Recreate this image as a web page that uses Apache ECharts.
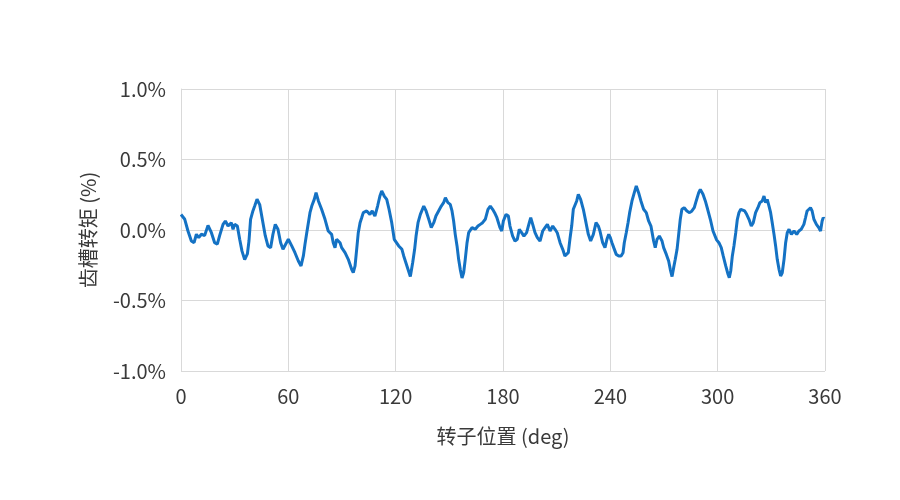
<!DOCTYPE html>
<html>
<head>
<meta charset="utf-8">
<script src="https://cdn.jsdelivr.net/npm/echarts@6/dist/echarts.min.js"></script>
<style>
html,body{margin:0;padding:0;background:#fff;}
#chart{width:900px;height:500px;}
</style>
</head>
<body>
<div id="chart"></div>
<script>
// Rotor position (deg)
var angleDeg = [
0,2.1,3.9,5.8,7.3,8.6,9.9,11.4,13.2,15.1,17.0,18.8,20.3,21.6,23.5,24.8,26.3,28.1,29.1,30.0,31.5,32.8,34.1,35.6,37.1,38.0,38.9,40.2,41.2,42.5,44.0,45.8,47.1,48.6,50.1,51.4,52.7,54.2,55.7,57.0,
58.1,60.0,61.9,63.7,65.6,67.1,68.4,69.3,70.3,71.2,72.1,73.1,74.5,75.5,76.8,78.6,80.5,82.3,84.2,85.1,86.1,87.0,87.9,88.9,89.8,91.7,93.5,95.4,96.3,97.3,98.2,99.1,100.1,101.0,101.9,103.8,105.6,106.9,108.4,109.9,111.2,112.2,113.6,115.0,116.3,117.8,119.2,
121.7,123.5,124.5,126.3,128.2,129.5,130.6,131.4,132.5,133.8,135.7,137.0,138.5,139.9,141.3,142.5,144.0,145.5,146.8,147.8,149.2,150.5,151.5,152.4,153.3,154.3,155.2,156.1,157.1,158.0,158.9,159.9,160.8,162.7,164.5,166.0,167.3,168.6,170.1,171.6,172.9,174.2,175.3,176.6,
178.3,179.3,180.2,181.7,183.0,183.9,185.4,186.7,188.0,189.1,190.4,191.7,193.2,194.7,195.5,196.6,197.9,199.2,200.7,202.2,203.5,204.8,206.3,207.8,209.1,210.3,211.9,213.4,214.6,216.5,217.4,218.4,219.3,220.2,221.2,222.1,223.4,224.9,226.4,227.7,229.0,230.5,232.0,233.3,234.2,235.7,237.0,
238.1,239.1,240.0,240.9,241.9,243.3,244.7,246.0,247.1,247.8,248.9,249.9,250.8,252.1,253.4,254.5,255.8,257.1,258.6,260.1,261.4,262.7,264.2,265.1,266.1,267.4,268.9,269.8,271.3,272.6,273.5,274.5,275.4,276.3,277.3,278.2,279.1,280.0,281.3,282.8,284.3,285.6,286.9,288.0,289.4,290.3,291.8,293.1,294.4,295.9,297.4,
299.4,300.7,302.0,303.1,304.5,305.8,306.5,307.3,308.2,309.1,310.1,311.0,311.9,312.9,313.8,315.1,316.2,317.5,318.8,319.9,321.2,322.5,323.6,324.9,325.9,326.8,327.7,328.7,329.6,330.5,331.5,332.4,333.3,334.3,335.2,336.1,337.1,338.0,338.9,339.9,341.2,342.7,344.2,345.4,346.7,348.2,349.1,350.0,351.0,351.9,352.8,353.8,355.2,356.5,357.5,358.4,359.0,359.6
];
// Cogging torque (%)
var torquePct = [
0.11,0.076,-0.007,-0.078,-0.09,-0.03,-0.054,-0.03,-0.04,0.033,-0.019,-0.09,-0.10,-0.04,0.04,0.064,0.028,0.052,0.005,0.04,0.028,-0.066,-0.15,-0.21,-0.17,-0.078,0.076,0.135,0.17,0.218,0.18,0.052,-0.04,-0.113,-0.125,-0.03,0.04,0.005,-0.09,-0.137,
-0.149,-0.066,-0.113,-0.161,-0.220,-0.255,-0.184,-0.102,-0.019,0.052,0.123,0.170,0.217,0.265,0.206,0.147,0.076,-0.007,-0.031,-0.090,-0.125,-0.066,-0.054,-0.090,-0.125,-0.161,-0.208,-0.279,-0.303,-0.255,-0.137,-0.019,0.052,0.087,0.123,0.135,0.111,0.135,0.099,0.170,0.241,0.277,0.241,0.217,0.147,0.052,-0.066,
-0.113,-0.137,-0.184,-0.255,-0.33,-0.232,-0.137,-0.043,0.052,0.111,0.170,0.135,0.076,0.017,0.052,0.099,0.135,0.170,0.194,0.229,0.194,0.182,0.135,0.064,-0.031,-0.113,-0.208,-0.279,-0.34,-0.303,-0.208,-0.090,-0.019,0.017,0.005,0.028,0.040,0.052,0.076,0.147,0.170,0.147,0.123,0.087,
0.017,-0.007,0.064,0.111,0.099,0.028,-0.043,-0.078,-0.066,0.005,-0.019,-0.043,-0.019,0.052,0.087,0.040,-0.019,-0.054,-0.078,-0.007,0.017,0.040,-0.007,0.028,0.005,-0.019,-0.090,-0.137,-0.184,-0.161,-0.066,0.028,0.147,0.158,0.206,0.253,0.217,0.147,0.052,-0.031,-0.078,-0.031,0.052,0.028,-0.007,-0.090,-0.125,
-0.066,-0.031,-0.054,-0.090,-0.125,-0.173,-0.184,-0.184,-0.161,-0.090,-0.019,0.052,0.123,0.206,0.265,0.312,0.265,0.206,0.147,0.123,0.064,0.028,-0.078,-0.125,-0.066,-0.043,-0.078,-0.125,-0.173,-0.220,-0.279,-0.33,-0.267,-0.208,-0.137,-0.031,0.076,0.147,0.158,0.135,0.123,0.135,0.158,0.206,0.265,0.288,0.253,0.206,0.147,0.076,-0.007,
-0.07,-0.090,-0.125,-0.184,-0.255,-0.314,-0.338,-0.291,-0.184,-0.113,-0.019,0.076,0.123,0.147,0.158,0.135,0.111,0.076,0.028,0.052,0.123,0.158,0.194,0.206,0.241,0.194,0.217,0.170,0.123,0.052,-0.031,-0.113,-0.208,-0.279,-0.326,-0.303,-0.208,-0.090,-0.019,0.005,-0.031,-0.007,-0.031,-0.007,0.005,0.040,0.087,0.135,0.147,0.158,0.135,0.076,0.040,0.017,-0.007,0.064,0.087,0.08
];
var xTicks = [0, 60, 120, 180, 240, 300, 360];
var yTicks = [-1.0, -0.5, 0.0, 0.5, 1.0];
var xName = '转子位置 (deg)';
var yName = '齿槽转矩 (%)';

var seriesData = angleDeg.map(function(a, i){ return [a, torquePct[i]]; });
var fontFam = '"Noto Sans CJK SC", "Open Sans", sans-serif';
var chart = echarts.init(document.getElementById('chart'), null, {renderer:'canvas'});
chart.setOption({
  animation: false,
  backgroundColor: '#ffffff',
  grid: {left: 181, right: 75, top: 89, bottom: 129, containLabel: false},
  xAxis: {
    type: 'value',
    min: xTicks[0], max: xTicks[xTicks.length-1], interval: 60,
    name: xName, nameLocation: 'middle', nameGap: 55,
    nameTextStyle: {fontFamily: fontFam, fontSize: 20, color: '#3a3a3a'},
    axisLine: {show: true, lineStyle: {color: '#d9d9d9', width: 1}},
    axisTick: {show: false},
    axisLabel: {fontFamily: fontFam, fontSize: 20, color: '#3a3a3a', margin: 15},
    splitLine: {show: true, lineStyle: {color: '#d9d9d9', width: 1}}
  },
  yAxis: {
    type: 'value',
    min: yTicks[0], max: yTicks[yTicks.length-1], interval: 0.5,
    name: yName, nameLocation: 'middle', nameGap: 83, nameRotate: 90,
    nameTextStyle: {fontFamily: fontFam, fontSize: 20, color: '#3a3a3a'},
    axisLine: {show: true, lineStyle: {color: '#d9d9d9', width: 1}},
    axisTick: {show: false},
    axisLabel: {fontFamily: fontFam, fontSize: 20, color: '#3a3a3a', margin: 15,
      formatter: function(v){ return v.toFixed(1) + '%'; }},
    splitLine: {show: true, lineStyle: {color: '#d9d9d9', width: 1}}
  },
  series: [{
    type: 'line',
    data: seriesData,
    showSymbol: false,
    smooth: false,
    lineStyle: {color: '#1472c4', width: 3},
    itemStyle: {color: '#1472c4'}
  }]
});
</script>
</body>
</html>
